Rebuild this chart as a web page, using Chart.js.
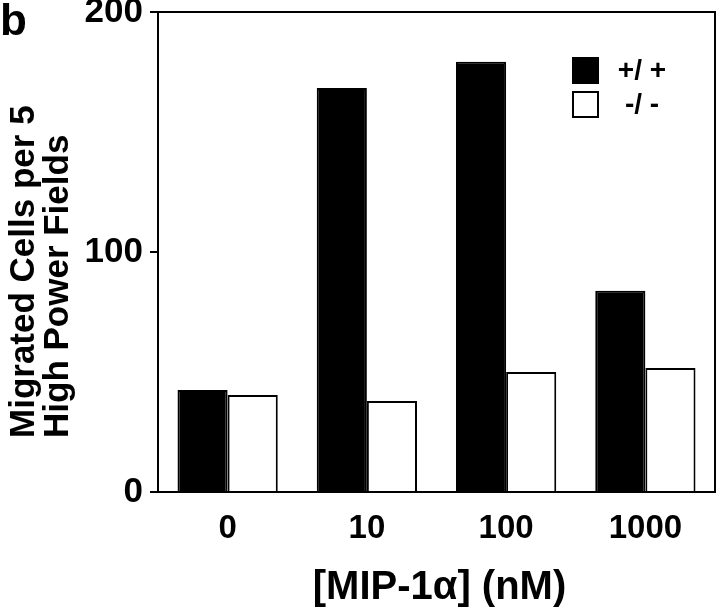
<!DOCTYPE html>
<html>
<head>
<meta charset="utf-8">
<script src="https://cdn.jsdelivr.net/npm/chart.js@4"></script>
<style>
  html, body { margin: 0; padding: 0; background: #fff; }
  #wrap { width: 720px; height: 612px; }
</style>
</head>
<body>
<div id="wrap"><canvas id="chart" width="720" height="612"></canvas></div>
<script>
// MIP-1α chemotaxis, +/+ vs -/- cells
const categories = ["0", "10", "100", "1000"];
const wildType = [42.5, 168.3, 179.3, 83.9];
const knockout = [40.4, 37.9, 50.0, 51.7];
const yTicks = [0, 100, 200];
const seriesLabels = ["+/ +", "-/ -"];
const yTitleLines = ["Migrated Cells per 5", "High Power Fields"];
const xTitle = "[MIP-1\u03b1] (nM)";
const panelLetter = "b";

const FONT = "'Liberation Sans', Arial, Helvetica, sans-serif";

const decor = {
  id: "decor",
  beforeDraw(chart) {
    const ctx = chart.ctx;
    ctx.save();
    ctx.fillStyle = "#fff";
    ctx.fillRect(0, 0, chart.width, chart.height);
    ctx.restore();
  },
  afterDraw(chart) {
    const ctx = chart.ctx;
    const a = chart.chartArea;
    ctx.save();

    // box round the plot
    ctx.strokeStyle = "#000";
    ctx.lineWidth = 2;
    ctx.beginPath();
    ctx.moveTo(a.left, a.top);
    ctx.lineTo(a.right, a.top);
    ctx.lineTo(a.right, a.bottom);
    ctx.stroke();

    // legend
    const ds = chart.data.datasets;
    const lx = a.right - 143;
    const rows = [a.top + 45, a.top + 79];
    ds.forEach((d, i) => {
      const sz = 27;
      ctx.fillStyle = d.backgroundColor;
      ctx.fillRect(lx, rows[i], sz, sz);
      ctx.lineWidth = 2;
      ctx.strokeStyle = "#000";
      ctx.strokeRect(lx + 1, rows[i] + 1, sz - 2, sz - 2);
      ctx.fillStyle = "#000";
      ctx.font = "bold 28px " + FONT;
      ctx.textAlign = "center";
      ctx.textBaseline = "middle";
      ctx.fillText(d.label, lx + 70, rows[i] + 14);
    });

    // panel letter
    ctx.font = "bold 44px " + FONT;
    ctx.textAlign = "left";
    ctx.textBaseline = "alphabetic";
    ctx.fillText(panelLetter, 0, 35);

    // y title, two lines
    ctx.font = "bold 35px " + FONT;
    yTitleLines.forEach((t, i) => {
      ctx.save();
      ctx.translate(34 + i * 34, 438);
      ctx.rotate(-Math.PI / 2);
      ctx.textAlign = "left";
      ctx.textBaseline = "alphabetic";
      ctx.fillText(t, 0, 0);
      ctx.restore();
    });

    // x title
    ctx.font = "bold 40px " + FONT;
    ctx.textAlign = "center";
    ctx.textBaseline = "alphabetic";
    ctx.fillText(xTitle, (a.left + a.right) / 2 + 3, 599);

    ctx.restore();
  }
};

new Chart(document.getElementById("chart"), {
  type: "bar",
  data: {
    labels: categories,
    datasets: [
      {
        label: seriesLabels[0],
        data: wildType,
        backgroundColor: "#000",
        borderColor: "#000",
        borderWidth: 2,
      },
      {
        label: seriesLabels[1],
        data: knockout,
        backgroundColor: "#fff",
        borderColor: "#000",
        borderWidth: 2,
      },
    ],
  },
  options: {
    responsive: false,
    animation: false,
    events: [],
    layout: { padding: { top: 12, right: 5, left: 0, bottom: 0 } },
    datasets: { bar: { categoryPercentage: 0.72, barPercentage: 1.0 } },
    plugins: {
      legend: { display: false },
      tooltip: { enabled: false },
    },
    scales: {
      x: {
        grid: { display: true, drawOnChartArea: false, drawTicks: false },
        border: { display: true, color: "#000", width: 2 },
        ticks: { color: "#000", font: { family: FONT, size: 33, weight: "bold" }, padding: 17, maxRotation: 0 },
        afterFit(scale) {
          scale.height = 120;
          scale.paddingLeft = 0;
          scale.paddingRight = 0;
        },
      },
      y: {
        min: 0,
        max: 200,
        grid: { display: true, drawOnChartArea: false, drawTicks: true, tickLength: 8, color: "#000", lineWidth: 2 },
        border: { display: true, color: "#000", width: 2 },
        ticks: { color: "#000", font: { family: FONT, size: 35, weight: "bold" }, padding: 7 },
        afterBuildTicks(scale) { scale.ticks = yTicks.map(v => ({ value: v })); },
        afterFit(scale) {
          scale.width = 158;
          scale.paddingTop = 0;
          scale.paddingBottom = 0;
        },
      },
    },
  },
  plugins: [decor],
});
</script>
</body>
</html>
